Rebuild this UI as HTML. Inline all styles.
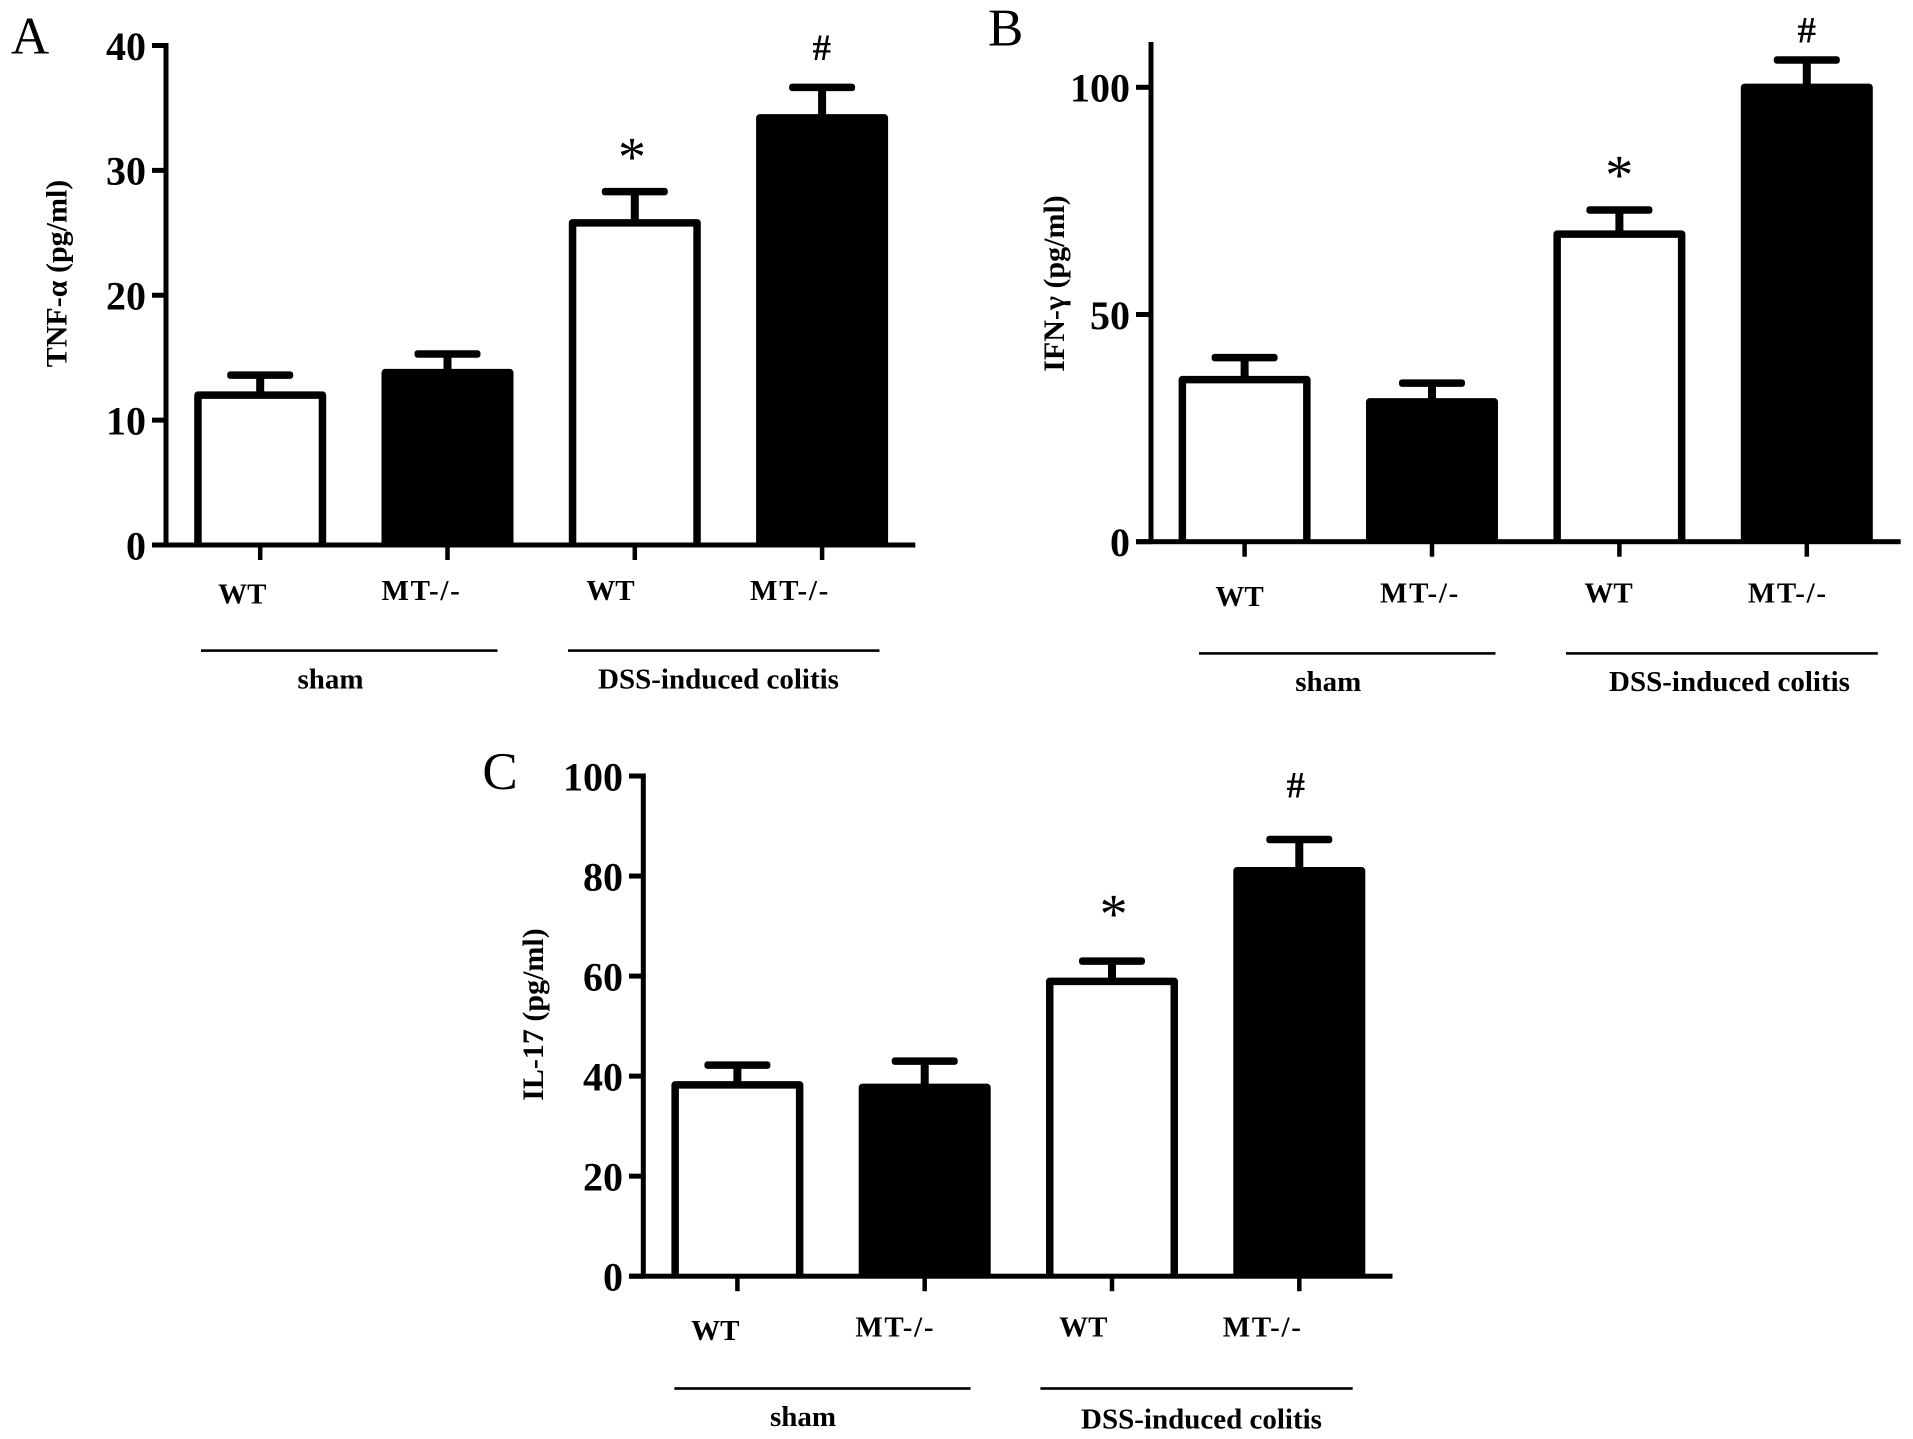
<!DOCTYPE html>
<html lang="en">
<head>
<meta charset="utf-8">
<title>TNF-α, IFN-γ and IL-17 levels</title>
<style>
  html, body { margin: 0; padding: 0; background: #fff; }
  svg { display: block; }
  text { font-family: "Liberation Serif", serif; fill: #000; }
  .tick { font-size: 40px; font-weight: bold; text-anchor: end; }
  .cat { font-size: 29px; font-weight: bold; text-anchor: middle; }
  .mt { letter-spacing: 1.7px; }
  .grp { font-size: 29px; font-weight: bold; text-anchor: middle; }
  .ttl { font-size: 30px; font-weight: bold; text-anchor: middle; }
  .letter { font-size: 53px; text-anchor: middle; }
  .star { font-size: 56px; text-anchor: middle; }
  .hash { font-size: 37px; font-weight: bold; text-anchor: middle; }
</style>
</head>
<body>
<svg id="figure" xmlns="http://www.w3.org/2000/svg" width="1913" height="1439" viewBox="0 0 1913 1439">
  <rect width="1913" height="1439" fill="#fff"/>

  <g id="panel-a">
    <text class="letter" x="30" y="53.5">A</text>
    <text class="ttl" transform="translate(66.5 273.5) rotate(-90)">TNF-α (pg/ml)</text>
    <text class="cat" x="242.3" y="603.5">WT</text>
    <text class="cat mt" x="421.5" y="600">MT-/-</text>
    <text class="cat" x="610.4" y="600">WT</text>
    <text class="cat mt" x="790" y="600">MT-/-</text>
    <rect x="201" y="649.3" width="296.5" height="2.6" fill="#000"/>
    <rect x="568" y="649.3" width="311.5" height="2.6" fill="#000"/>
    <text class="grp" x="330.5" y="688.5">sham</text>
    <text class="grp" x="718.5" y="688.5">DSS-induced colitis</text>
    <text class="star" x="632" y="175.6">*</text>
    <text class="hash" x="821.7" y="60">#</text>
  </g>

  <g id="panel-b">
    <text class="letter" x="1005.7" y="45.5">B</text>
    <text class="ttl" transform="translate(1064 283.5) rotate(-90)">IFN-γ (pg/ml)</text>
    <text class="cat" x="1239.6" y="606">WT</text>
    <text class="cat mt" x="1420" y="602.4">MT-/-</text>
    <text class="cat" x="1608.5" y="602.4">WT</text>
    <text class="cat mt" x="1787.8" y="602.4">MT-/-</text>
    <rect x="1199" y="652.1" width="296.5" height="2.6" fill="#000"/>
    <rect x="1566" y="652.1" width="311.8" height="2.6" fill="#000"/>
    <text class="grp" x="1328.3" y="691">sham</text>
    <text class="grp" x="1729.5" y="691">DSS-induced colitis</text>
    <text class="star" x="1619.3" y="193.5">*</text>
    <text class="hash" x="1806.7" y="42.5">#</text>
  </g>

  <g id="panel-c">
    <text class="letter" x="500" y="789">C</text>
    <text class="ttl" transform="translate(543 1014.5) rotate(-90)">IL-17 (pg/ml)</text>
    <text class="cat" x="715.3" y="1340">WT</text>
    <text class="cat mt" x="895.3" y="1336.7">MT-/-</text>
    <text class="cat" x="1083.3" y="1336.7">WT</text>
    <text class="cat mt" x="1262.7" y="1336.7">MT-/-</text>
    <rect x="674.3" y="1387.2" width="296.3" height="2.6" fill="#000"/>
    <rect x="1040.4" y="1387.2" width="312.3" height="2.6" fill="#000"/>
    <text class="grp" x="803" y="1426">sham</text>
    <text class="grp" x="1201.5" y="1428.4">DSS-induced colitis</text>
    <text class="star" x="1113.6" y="932.6">*</text>
    <text class="hash" x="1295.7" y="797.5">#</text>
  </g>
</svg>

<script>
// Panel A: TNF-alpha
const categoriesA = ['sham-wt', 'sham-mt', 'dss-wt', 'dss-mt'];
const valuesA = [12.3, 14.1, 26.1, 34.5];
const errorTopsA = [13.6, 15.3, 28.3, 36.65];
const tickLabelsA = [0, 10, 20, 30, 40];

// Panel B: IFN-gamma
const categoriesB = ['sham-wt', 'sham-mt', 'dss-wt', 'dss-mt'];
const valuesB = [36.5, 31.6, 68.5, 100.8];
const errorTopsB = [40.5, 34.9, 73, 106];
const tickLabelsB = [0, 50, 100];

// Panel C: IL-17
const categoriesC = ['sham-wt', 'sham-mt', 'dss-wt', 'dss-mt'];
const valuesC = [39, 38.5, 59.7, 81.8];
const errorTopsC = [42.2, 43, 63, 87.3];
const tickLabelsC = [0, 20, 40, 60, 80, 100];

const SVG_NS = 'http://www.w3.org/2000/svg';

function linearAxis(domainA, rangeA, domainB, rangeB) {
  return function (v) {
    return rangeA + (v - domainA) * (rangeB - rangeA) / (domainB - domainA);
  };
}

function shape(parent, tag, attrs) {
  const el = document.createElementNS(SVG_NS, tag);
  for (const k in attrs) el.setAttribute(k, attrs[k]);
  parent.appendChild(el);
  return el;
}

function drawPanel(id, suffix, categories, values, errorTops, tickLabels, g) {
  const parent = document.getElementById(id);
  const yScale = linearAxis(0, g.y0, g.vRef, g.yRef);
  const xScale = function (i) { return g.xFirst + i * g.xStep; };
  const AXIS = 5, STROKE = 7.5, BARW = 132, CAPW = 66, CAPH = 7.5, XTICK = 15;

  categories.forEach(function (cat, i) {
    const cx = xScale(i);
    const top = yScale(values[i]);
    const capY = yScale(errorTops[i]);

    const stem = shape(parent, 'rect', { x: cx - 4, y: capY, width: 8, height: top - capY + 2, fill: '#000' });
    
    

    const cap = shape(parent, 'rect', { x: cx - CAPW / 2, y: capY - CAPH / 2, width: CAPW, height: CAPH, rx: 3, fill: '#000' });
    
    

    const left = cx - BARW / 2 + STROKE / 2;
    const right = cx + BARW / 2 - STROKE / 2;
    const upper = top + STROKE / 2;
    const bar = shape(parent, 'path', {
      d: 'M' + left + ' ' + g.y0 + 'V' + upper + 'H' + right + 'V' + g.y0,
      fill: i % 2 === 0 ? '#fff' : '#000',
      stroke: '#000',
      'stroke-width': STROKE,
      'stroke-linejoin': 'round'
    });
    
    

    const tick = shape(parent, 'rect', { x: cx - 2.25, y: g.y0, width: 4.5, height: XTICK, fill: '#000' });
    
    
  });

  const yAxis = shape(parent, 'rect', { x: g.axisX - AXIS / 2, y: g.axisTop, width: AXIS, height: g.y0 - g.axisTop + 2, fill: '#000' });
  
  

  const xAxis = shape(parent, 'rect', { x: g.xLeft, y: g.y0 - AXIS / 2, width: g.xRight - g.xLeft, height: AXIS, fill: '#000' });
  
  

  tickLabels.forEach(function (t) {
    const y = yScale(t);
    const tm = shape(parent, 'rect', { x: g.xLeft, y: y - 2.5, width: g.axisX - g.xLeft, height: 5, fill: '#000' });
    
    

    const label = shape(parent, 'text', { x: g.labelRight, y: y + 14.3, 'class': 'tick' });
    label.textContent = String(t);
    
    
  });
}

drawPanel('panel-a', 'a', categoriesA, valuesA, errorTopsA, tickLabelsA, {
  y0: 545, vRef: 40, yRef: 45.5, xFirst: 260.2, xStep: 187.3,
  axisX: 166, axisTop: 43, xLeft: 152, xRight: 915.3, labelRight: 146
});
drawPanel('panel-b', 'b', categoriesB, valuesB, errorTopsB, tickLabelsB, {
  y0: 541.7, vRef: 100, yRef: 87.3, xFirst: 1244.6, xStep: 187.4,
  axisX: 1151, axisTop: 42, xLeft: 1136, xRight: 1900.7, labelRight: 1130
});
drawPanel('panel-c', 'c', categoriesC, valuesC, errorTopsC, tickLabelsC, {
  y0: 1276.2, vRef: 100, yRef: 776, xFirst: 737.4, xStep: 187.3,
  axisX: 643.3, axisTop: 773.5, xLeft: 629, xRight: 1392.5, labelRight: 623
});
</script>
</body>
</html>
